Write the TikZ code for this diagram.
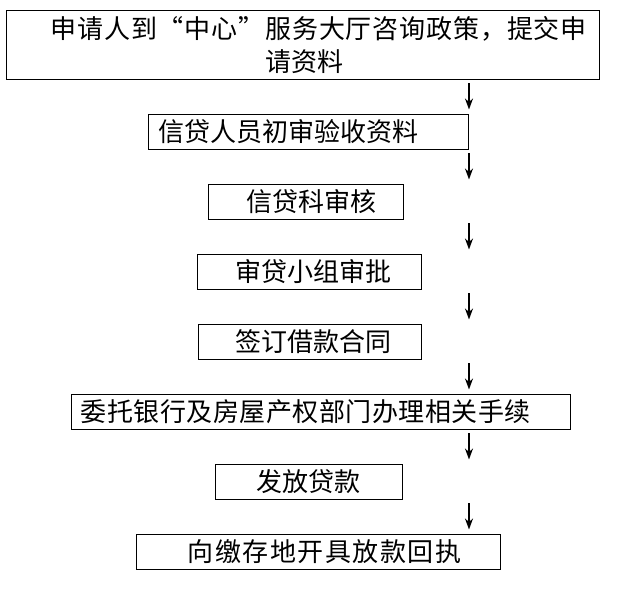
\documentclass[tikz,border=0pt]{standalone}
\usepackage{fontspec}
\newfontfamily\cjk{Noto Sans CJK SC}
\usetikzlibrary{arrows.meta,calc}
\tikzset{
  box/.style={draw, line width=1pt, anchor=north west, inner sep=0pt, minimum height=35pt, align=left, font=\cjk\fontsize{26pt}{33pt}\selectfont},
  arr/.style={line width=1.8pt, -{Stealth[length=11pt,width=8pt]}}
}
\begin{document}
\begin{tikzpicture}[x=1pt,y=-1pt]
\useasboundingbox (0,0) rectangle (619,589);
\node[box, text width=593pt, minimum height=69pt] (b1) at (6,10) {\hspace*{44pt}{\addfontfeature{LetterSpace=3.3}申请人到“中心”服务大厅咨询政策，提交申}\\\hspace*{259pt}请资料};
\node[box, text width=320pt] (b2) at (148,114) {\hspace*{10pt}信贷人员初审验收资料};
\node[box, text width=195pt] (b3) at (208,184) {\hspace*{38pt}信贷科审核};
\node[box, text width=224pt] (b4) at (197,254) {\hspace*{38pt}审贷小组审批};
\node[box, text width=223pt] (b5) at (198,324) {\hspace*{37pt}签订借款合同};
\node[box, text width=499pt] (b6) at (71,394) {\hspace*{9pt}{\addfontfeature{LetterSpace=2}委托银行及房屋产权部门办理相关手续}};
\node[box, text width=187pt] (b7) at (215,464) {\hspace*{41pt}发放贷款};
\node[box, text width=364pt] (b8) at (136,534) {\hspace*{51pt}{\addfontfeature{LetterSpace=6}向缴存地开具放款回执}};
% arrows on the right
\coordinate (ax) at (469,0);
\foreach \a/\b in {b1/b2,b2/b3,b3/b4,b4/b5,b5/b6,b6/b7,b7/b8}
  \draw[arr] ($(\a.south -| ax)+(0,3)$) -- ($(\b.north -| ax)+(0,-4.5)$);
\end{tikzpicture}
\end{document}
